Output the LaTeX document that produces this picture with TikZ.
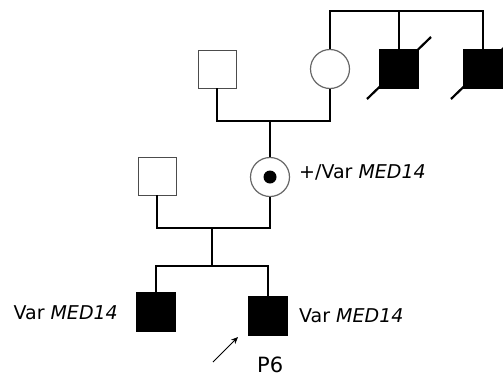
\documentclass[tikz,border=0pt]{standalone}
\usepackage{fontspec}
\setmainfont{DejaVu Sans}
\usetikzlibrary{arrows.meta}
\begin{document}
\begin{tikzpicture}[x=1pt,y=-1pt,
  line/.style={line width=1.7pt,black},
  slash/.style={line width=2.2pt,black},
  malebox/.style={draw=black!70,line width=0.9pt,minimum size=38pt,inner sep=0pt,rectangle},
  affbox/.style={draw=black,fill=black,minimum size=39pt,inner sep=0pt,rectangle},
  femcirc/.style={draw=black!60,line width=1.2pt,circle,minimum size=39pt,inner sep=0pt},
  lbl/.style={font=\fontsize{19}{22}\selectfont,inner sep=0pt}]
\useasboundingbox (0,0) rectangle (503,378);
% generation I
\node[malebox] (gf) at (217,69) {};
\node[femcirc] (gm) at (330,69) {};
\node[affbox] (u1) at (399,69) {};
\node[affbox] (u2) at (483,69) {};
\coordinate (s1a) at (367,99);
\coordinate (s1b) at (431,37);
\coordinate (s2a) at (451,99);
\coordinate (s2b) at (515,37);
\draw[slash] (s1a) -- (s1b);
\draw[slash] (s2a) -- (s2b);
\draw[line] (gm.north) |- (483,11) -- (u2.north);
\draw[line] (399,11) -- (u1.north);
% marriage I
\draw[line] (gf.south) |- (330,121) -- (gm.south);
% generation II
\node[femcirc] (mo) at (270,177) {};
\node[circle,fill=black,minimum size=13pt,inner sep=0pt] (dot) at (mo.center) {};
\node[malebox] (fa) at (157,176) {};
\draw[line] (270,121) -- (mo.north);
\draw[line] (fa.south) |- (270,228) -- (mo.south);
\node[lbl,anchor=west] (lm) at (299,172) {+/Var \textit{MED14}};
% generation III
\node[affbox] (c1) at (156,312) {};
\node[affbox] (c2) at (268,316) {};
\draw[line] (212,228) -- (212,266);
\draw[line] (c1.north) |- (268,266) -- (c2.north);
\node[lbl,anchor=east] (l1) at (118,313) {Var \textit{MED14}};
\node[lbl,anchor=west] (l2) at (299,316) {Var \textit{MED14}};
\node[font=\fontsize{21}{24}\selectfont,inner sep=0pt,anchor=base west] (p6) at (257,372.5) {P6};
\coordinate (ar0) at (213,362);
\coordinate (ar1) at (238,337);
\draw[line width=1pt,-{Stealth[length=7pt,width=6pt]}] (ar0) -- (ar1);
\end{tikzpicture}
\end{document}
